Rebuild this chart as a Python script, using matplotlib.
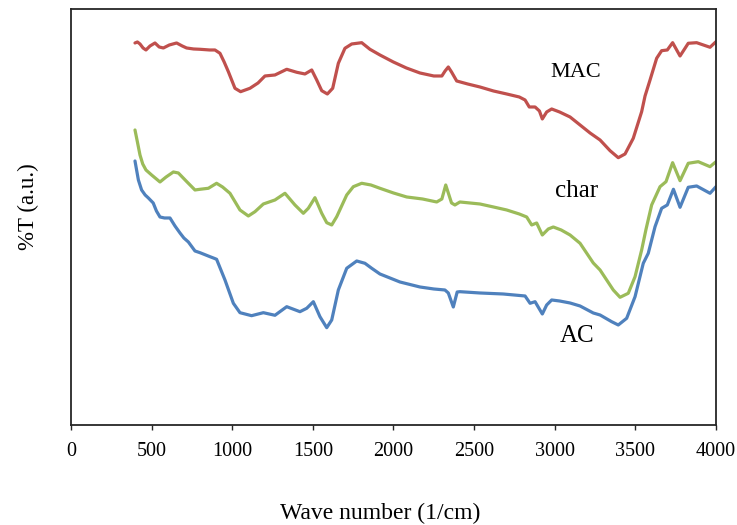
import matplotlib
matplotlib.use('Agg')
import matplotlib.pyplot as plt

plt.rcParams['font.family'] = ['Liberation Serif', 'DejaVu Serif']

# FTIR spectra, %T in arbitrary units
mac_wn = [397, 412, 428, 447, 465, 490, 521, 547, 573, 610, 655, 690, 717, 760, 800,
          860, 893, 924, 950, 976, 1017, 1052, 1110, 1160, 1203, 1265, 1338, 1400, 1451,
          1493, 1524, 1555, 1590, 1623, 1658, 1699, 1741, 1803, 1854, 1916, 1999, 2080,
          2164, 2250, 2300, 2320, 2340, 2360, 2392, 2460, 2536, 2620, 2702, 2780, 2816,
          2842, 2878, 2905, 2923, 2950, 2981, 3030, 3095, 3157, 3219, 3281, 3343, 3394,
          3436, 3487, 3539, 3560, 3591, 3632, 3663, 3698, 3731, 3777, 3828, 3880, 3963, 4000]
mac_t = [382, 383, 381, 377, 375, 379, 382, 378, 377, 380, 382, 379, 377, 376, 375.7,
         375, 375, 371.7, 363, 353.3, 336.7, 333.3, 336.7, 342, 349, 350, 355.7, 352.7, 351,
         355, 345, 334.3, 331, 336.7, 361.7, 376.7, 381, 382.3, 375.7, 370, 363, 357,
         352, 349, 349, 354, 358, 353, 344, 341, 338, 334, 331, 328, 325,
         318, 318, 314, 306, 313, 316, 313, 308, 300, 292, 285, 274.3, 267.3,
         271, 286.7, 313.3, 329, 345, 366.7, 374.3, 375, 382.3, 369, 381.7, 382.3, 377.7, 383.3]

char_wn = [397, 412, 428, 445, 465, 500, 552, 590, 635, 666, 720, 769, 800, 852, 903,
           940, 986, 1048, 1100, 1141, 1193, 1265, 1327, 1389, 1441, 1472, 1513, 1555, 1586,
           1617, 1648, 1710, 1751, 1803, 1860, 1916, 2000, 2082, 2180, 2268, 2300, 2324,
           2340, 2360, 2381, 2412, 2536, 2620, 2702, 2780, 2826, 2857, 2888, 2923, 2960,
           2991, 3040, 3095, 3157, 3239, 3281, 3363, 3405, 3456, 3498, 3539, 3566, 3601,
           3653, 3690, 3731, 3777, 3828, 3890, 3963, 4000]
char_t = [295, 283, 270, 261, 255, 250, 243, 248, 253, 252, 243, 235, 235.7, 236.7, 241.7,
          238, 231.7, 215, 209, 213.3, 221, 225, 231.7, 220, 211.7, 216.7, 227.3, 211.7, 202.3,
          200, 208.3, 230, 238.3, 241.7, 240, 236.7, 232, 228, 226, 223, 226, 240,
          232, 222, 220, 223, 221, 218, 215, 211, 208, 200, 202, 190, 196,
          198, 195, 190, 181.7, 162, 155, 135, 127.7, 131.7, 148.3, 175, 195.7, 220,
          238.3, 243.3, 262.3, 244.3, 261.7, 263.3, 258.3, 263.3]

ac_wn = [397, 418, 438, 460, 480, 510, 530, 552, 580, 614, 645, 676, 700, 728, 769,
         800, 862, 883, 903, 955, 1007, 1048, 1120, 1193, 1265, 1338, 1420, 1462, 1503,
         1544, 1586, 1617, 1658, 1710, 1772, 1823, 1865, 1916, 2040, 2164, 2250, 2319,
         2340, 2371, 2395, 2412, 2536, 2680, 2816, 2847, 2878, 2923, 2950, 2981, 3030,
         3095, 3157, 3239, 3281, 3353, 3394, 3446, 3498, 3549, 3580, 3622, 3663, 3698,
         3736, 3777, 3828, 3880, 3963, 4000]
ac_t = [264, 245, 235, 230, 227, 222, 214, 208, 207, 207, 199, 192, 187, 183, 174,
        172.3, 168.3, 167, 165.7, 145, 121.7, 112.3, 109.3, 112.3, 109.7, 118.3, 113.3, 116.7, 123.3,
        108.3, 97.3, 105, 135, 156.7, 164, 161.7, 156.7, 151, 143, 138, 136, 135,
        132, 118, 133, 133.3, 132, 131, 129, 121.7, 123.3, 111, 120, 125, 124,
        122, 119, 112, 110, 103.3, 100, 106.7, 128.3, 161.7, 171.7, 198.3, 216.7, 220,
        235.7, 217.7, 237.7, 239, 231.7, 238.3]

x_ticks = [0, 500, 1000, 1500, 2000, 2500, 3000, 3500, 4000]

fig = plt.figure(figsize=(7.37, 5.25), dpi=100)
ax = fig.add_axes([0.0963, 0.1905, 0.8752, 0.7924])

line_kw = dict(linewidth=2.3, solid_joinstyle='round', solid_capstyle='round')
ax.plot(mac_wn, mac_t, color='#C0504D', **line_kw)
ax.plot(char_wn, char_t, color='#9BBB59', **line_kw)
ax.plot(ac_wn, ac_t, color='#4F81BD', **line_kw)

# curve labels
ax.text(3132, 348, 'MAC', fontsize=16, ha='center', va='baseline')
ax.text(3138, 228, 'char', fontsize=18, ha='center', va='baseline')
ax.text(3136, 83, 'AC', fontsize=18, ha='center', va='baseline')

ax.set_xlim(0, 4000)
ax.set_ylim(0, 416)
ax.set_xticks(x_ticks)
ax.set_yticks([])
ax.tick_params(axis='x', direction='out', length=3.6, width=1, pad=9,
               labelsize=14.5, color='#262626')

for sp in ax.spines.values():
    sp.set_color('#262626')
    sp.set_linewidth(1.3)

ax.set_xlabel('Wave number (1/cm)', fontsize=17, labelpad=30, x=0.48)
ax.set_ylabel('%T (a.u.)', fontsize=16.5, labelpad=23, y=0.524)

fig.savefig('out.png', dpi=100)
